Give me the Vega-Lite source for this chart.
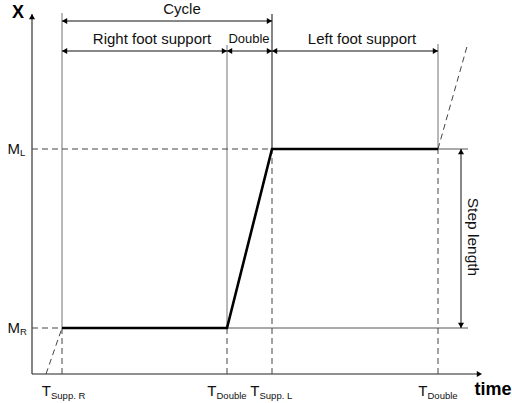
{
  "$schema": "https://vega.github.io/schema/vega-lite/v6.json",
  "width": 512,
  "height": 403,
  "autosize": "none",
  "padding": 0,
  "background": "white",
  "config": {"view": {"stroke": null}, "text": {"font": "Liberation Sans"}},
  "datasets": {
    "segments": [
      {"kind": "axis", "x": 0, "y": 0, "x2": 0, "y2": 36},
      {"kind": "axis", "x": 0, "y": 0, "x2": 44.8, "y2": 0},
      {"kind": "guide", "x": 3, "y": 4.6, "x2": 3, "y2": 36.1},
      {"kind": "guide", "x": 19.5, "y": 4.6, "x2": 19.5, "y2": 32.9},
      {"kind": "guide", "x": 40.6, "y": 22.5, "x2": 40.6, "y2": 33},
      {"kind": "guideBlack", "x": 24, "y": 22.5, "x2": 24, "y2": 36},
      {"kind": "level", "x": 19.5, "y": 4.6, "x2": 43.6, "y2": 4.6},
      {"kind": "level", "x": 24, "y": 22.5, "x2": 43.6, "y2": 22.5},
      {"kind": "dash", "x": 3, "y": 0, "x2": 3, "y2": 4.6},
      {"kind": "dash", "x": 19.5, "y": 0, "x2": 19.5, "y2": 4.6},
      {"kind": "dash", "x": 24, "y": 0, "x2": 24, "y2": 22.5},
      {"kind": "dash", "x": 40.6, "y": 0, "x2": 40.6, "y2": 22.5},
      {"kind": "dash", "x": 0, "y": 22.5, "x2": 24, "y2": 22.5},
      {"kind": "dash", "x": 0, "y": 4.6, "x2": 3, "y2": 4.6},
      {"kind": "dash", "x": 1.4, "y": 0, "x2": 3, "y2": 4.6},
      {"kind": "dash", "x": 40.6, "y": 22.5, "x2": 43.6, "y2": 33.1},
      {"kind": "arrow", "x": 3, "y": 35.3, "x2": 24, "y2": 35.3},
      {"kind": "arrow", "x": 3, "y": 32.3, "x2": 19.5, "y2": 32.3},
      {"kind": "arrow", "x": 19.5, "y": 32.3, "x2": 24, "y2": 32.3},
      {"kind": "arrow", "x": 24, "y": 32.3, "x2": 40.6, "y2": 32.3},
      {"kind": "arrow", "x": 42.9, "y": 4.6, "x2": 42.9, "y2": 22.5}
    ],
    "trajectory": [
      {"order": 1, "x": 3, "y": 4.6},
      {"order": 2, "x": 19.5, "y": 4.6},
      {"order": 3, "x": 24, "y": 22.5},
      {"order": 4, "x": 40.6, "y": 22.5}
    ],
    "heads": [
      {"dir": "left", "x": 3, "y": 35.3},
      {"dir": "left", "x": 3, "y": 32.3},
      {"dir": "left", "x": 19.5, "y": 32.3},
      {"dir": "left", "x": 24, "y": 32.3},
      {"dir": "right", "x": 24, "y": 35.3},
      {"dir": "right", "x": 19.5, "y": 32.3},
      {"dir": "right", "x": 24, "y": 32.3},
      {"dir": "right", "x": 40.6, "y": 32.3},
      {"dir": "right", "x": 45, "y": 0},
      {"dir": "up", "x": 0, "y": 36},
      {"dir": "up", "x": 42.9, "y": 22.5},
      {"dir": "down", "x": 42.9, "y": 4.6}
    ],
    "labels": [
      {"kind": "main", "x": 15, "y": 36.5, "text": "Cycle"},
      {"kind": "main", "x": 12, "y": 33.5, "text": "Right foot support"},
      {"kind": "small", "x": 21.7, "y": 33.5, "text": "Double"},
      {"kind": "main", "x": 33, "y": 33.5, "text": "Left foot support"},
      {"kind": "rot", "x": 44.1, "y": 13.7, "text": "Step length"},
      {"kind": "bold", "x": -1.4, "y": 36.1, "text": "X"},
      {"kind": "bold", "x": 46.1, "y": -1.6, "text": "time"},
      {"kind": "M", "x": -1.2, "y": 22.5, "text": "M"},
      {"kind": "sub", "x": -1.2, "y": 22.1, "text": "L"},
      {"kind": "M", "x": -1.2, "y": 4.6, "text": "M"},
      {"kind": "sub", "x": -1.2, "y": 4.2, "text": "R"},
      {"kind": "M", "x": 1.9, "y": -1.7, "text": "T"},
      {"kind": "sub", "x": 1.9, "y": -2.15, "text": "Supp. R"},
      {"kind": "M", "x": 18.45, "y": -1.7, "text": "T"},
      {"kind": "sub", "x": 18.45, "y": -2.15, "text": "Double"},
      {"kind": "M", "x": 22.75, "y": -1.7, "text": "T"},
      {"kind": "sub", "x": 22.75, "y": -2.15, "text": "Supp. L"},
      {"kind": "M", "x": 39.55, "y": -1.7, "text": "T"},
      {"kind": "sub", "x": 39.55, "y": -2.15, "text": "Double"}
    ]
  },
  "encoding": {
    "x": {"field": "x", "type": "quantitative", "scale": {"domain": [-3.2, 48], "nice": false, "zero": false}, "axis": null},
    "y": {"field": "y", "type": "quantitative", "scale": {"domain": [-2.9, 37.4], "nice": false, "zero": false}, "axis": null}
  },
  "layer": [
    {
      "data": {"name": "segments"},
      "transform": [{"filter": "datum.kind === 'guide'"}],
      "mark": {"type": "rule", "color": "#8a8a8a", "strokeWidth": 1.2},
      "encoding": {"x2": {"field": "x2"}, "y2": {"field": "y2"}}
    },
    {
      "data": {"name": "segments"},
      "transform": [{"filter": "datum.kind === 'guideBlack' || datum.kind === 'axis'"}],
      "mark": {"type": "rule", "color": "#222222", "strokeWidth": 1.1},
      "encoding": {"x2": {"field": "x2"}, "y2": {"field": "y2"}}
    },
    {
      "data": {"name": "segments"},
      "transform": [{"filter": "datum.kind === 'level'"}],
      "mark": {"type": "rule", "color": "#555555", "strokeWidth": 1},
      "encoding": {"x2": {"field": "x2"}, "y2": {"field": "y2"}}
    },
    {
      "data": {"name": "segments"},
      "transform": [{"filter": "datum.kind === 'dash'"}],
      "mark": {"type": "rule", "color": "#444444", "strokeWidth": 1, "strokeDash": [6, 4]},
      "encoding": {"x2": {"field": "x2"}, "y2": {"field": "y2"}}
    },
    {
      "data": {"name": "segments"},
      "transform": [{"filter": "datum.kind === 'arrow'"}],
      "mark": {"type": "rule", "color": "#111111", "strokeWidth": 1},
      "encoding": {"x2": {"field": "x2"}, "y2": {"field": "y2"}}
    },
    {
      "data": {"name": "trajectory"},
      "mark": {"type": "line", "color": "#000000", "strokeWidth": 2.6},
      "encoding": {"order": {"field": "order", "type": "quantitative"}}
    },
    {
      "data": {"name": "heads"},
      "transform": [{"filter": "datum.dir === 'left'"}],
      "mark": {"type": "point", "shape": "triangle-left", "filled": true, "color": "#000", "size": 36, "opacity": 1, "xOffset": 2.6},
      "encoding": {}
    },
    {
      "data": {"name": "heads"},
      "transform": [{"filter": "datum.dir === 'right'"}],
      "mark": {"type": "point", "shape": "triangle-right", "filled": true, "color": "#000", "size": 36, "opacity": 1, "xOffset": -2.6},
      "encoding": {}
    },
    {
      "data": {"name": "heads"},
      "transform": [{"filter": "datum.dir === 'up'"}],
      "mark": {"type": "point", "shape": "triangle-up", "filled": true, "color": "#000", "size": 36, "opacity": 1, "yOffset": 2.6},
      "encoding": {}
    },
    {
      "data": {"name": "heads"},
      "transform": [{"filter": "datum.dir === 'down'"}],
      "mark": {"type": "point", "shape": "triangle-down", "filled": true, "color": "#000", "size": 36, "opacity": 1, "yOffset": -2.6},
      "encoding": {}
    },
    {
      "data": {"name": "labels"},
      "transform": [{"filter": "datum.kind === 'main'"}],
      "mark": {"type": "text", "fontSize": 15, "color": "#111", "align": "center", "baseline": "middle"},
      "encoding": {"text": {"field": "text"}}
    },
    {
      "data": {"name": "labels"},
      "transform": [{"filter": "datum.kind === 'small'"}],
      "mark": {"type": "text", "fontSize": 13, "color": "#111", "align": "center", "baseline": "middle"},
      "encoding": {"text": {"field": "text"}}
    },
    {
      "data": {"name": "labels"},
      "transform": [{"filter": "datum.kind === 'rot'"}],
      "mark": {"type": "text", "fontSize": 15.5, "color": "#111", "align": "center", "baseline": "middle", "angle": 90},
      "encoding": {"text": {"field": "text"}}
    },
    {
      "data": {"name": "labels"},
      "transform": [{"filter": "datum.kind === 'bold'"}],
      "mark": {"type": "text", "fontSize": 18, "fontWeight": "bold", "color": "#000", "align": "center", "baseline": "middle"},
      "encoding": {"text": {"field": "text"}}
    },
    {
      "data": {"name": "labels"},
      "transform": [{"filter": "datum.kind === 'M'"}],
      "mark": {"type": "text", "fontSize": 15, "color": "#111", "align": "right", "baseline": "middle"},
      "encoding": {"text": {"field": "text"}}
    },
    {
      "data": {"name": "labels"},
      "transform": [{"filter": "datum.kind === 'sub'"}],
      "mark": {"type": "text", "fontSize": 9.5, "color": "#111", "align": "left", "baseline": "middle"},
      "encoding": {"text": {"field": "text"}}
    }
  ]
}
